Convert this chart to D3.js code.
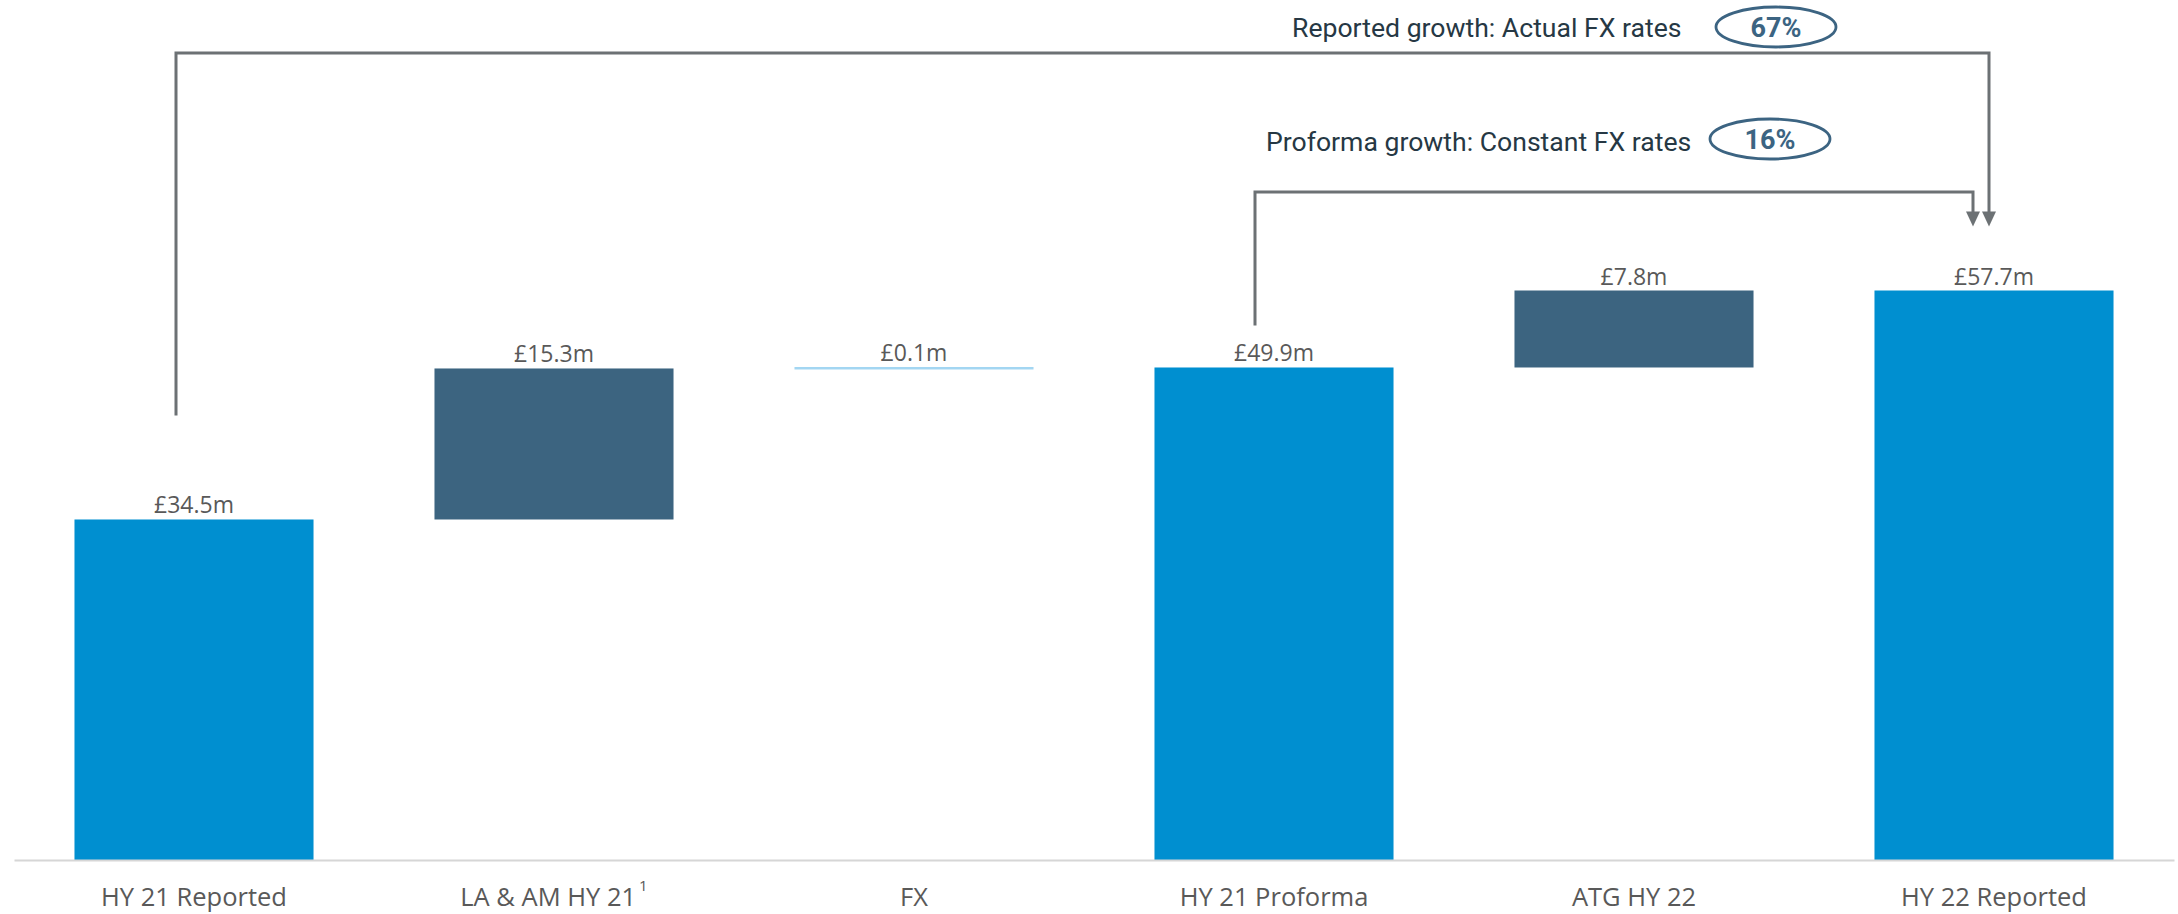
<!DOCTYPE html>
<html>
<head>
<meta charset="utf-8">
<script src="https://cdn.jsdelivr.net/npm/d3@7"></script>
<style>
  html, body { margin: 0; padding: 0; background: #ffffff; }
  svg { display: block; }
</style>
</head>
<body>
<svg id="chart" width="2178" height="914"></svg>
<script>
// Operating profit bridge, HY 21 to HY 22 (£m)
const categories = ["HY 21 Reported", "LA & AM HY 21", "FX", "HY 21 Proforma", "ATG HY 22", "HY 22 Reported"];
const footnotes = ["", "1", "", "", "", ""];
const values = [34.5, 15.3, 0.1, 49.9, 7.8, 57.7];
const kinds = ["total", "step", "fx", "total", "step", "total"];
const valueLabels = ["£34.5m", "£15.3m", "£0.1m", "£49.9m", "£7.8m", "£57.7m"];

const growthTexts = ["Reported growth: Actual FX rates", "Proforma growth: Constant FX rates"];
const growthValues = ["67%", "16%"];
const growthFrom = ["HY 21 Reported", "HY 21 Proforma"];
const growthTo = ["HY 22 Reported", "HY 22 Reported"];

const colors = { total: "#008fd0", step: "#3c6480", fx: "#a3d6f2" };

const svg = d3.select("#chart");

// Running totals for the waterfall
let running = 0;
const bars = categories.map((c, i) => {
  let lo, hi;
  if (kinds[i] === "total") { lo = 0; hi = values[i]; running = values[i]; }
  else { lo = running; hi = running + values[i]; running = hi; }
  return { cat: c, lo, hi, kind: kinds[i], label: valueLabels[i], note: footnotes[i] };
});

const x = d3.scaleBand()
  .domain(categories)
  .range([14, 2174])
  .paddingInner(0.336)
  .paddingOuter(0.168);

const y = d3.scaleLinear()
  .domain([0, 60])
  .range([860, 267.8]);

// Bars
svg.append("g").selectAll("rect")
  .data(bars)
  .join("rect")
  .attr("x", d => x(d.cat))
  .attr("width", x.bandwidth())
  .attr("y", d => d.kind === "fx" ? y(d.hi) - 0.5 : y(d.hi))
  .attr("height", d => Math.max(y(d.lo) - y(d.hi), 2.5))
  .attr("fill", d => colors[d.kind]);

// Value labels
svg.append("g").selectAll("text")
  .data(bars)
  .join("text")
  .attr("x", d => x(d.cat) + x.bandwidth() / 2)
  .attr("y", d => y(d.hi) - 6)
  .attr("text-anchor", "middle")
  .attr("font-family", "'Open Sans', sans-serif")
  .attr("font-size", 23)
  .attr("fill", "#595959")
  .text(d => d.label);

// Category axis
const axis = svg.append("g")
  .attr("transform", "translate(0,860)")
  .call(d3.axisBottom(x).tickSize(0).tickSizeOuter(0));
axis.select(".domain").attr("stroke", "#d6d6d6").attr("stroke-width", 2);
axis.selectAll(".tick text")
  .attr("y", 46)
  .attr("dy", 0)
  .attr("font-family", "'Open Sans', sans-serif")
  .attr("font-size", 25.5)
  .attr("fill", "#595959")
  .each(function(d, i) {
    if (footnotes[i]) {
      d3.select(this).append("tspan")
        .attr("dx", 3)
        .attr("dy", -15)
        .attr("font-size", 15)
        .text(footnotes[i]);
    }
  });

// Growth connectors with arrowheads into the HY 22 bar
const lineColor = "#6c7174";
const connectors = [
  { from: growthFrom[0], to: growthTo[0], startY: y(values[0]) - 104, topY: 53, fromOff: -18, toOff: -5 },
  { from: growthFrom[1], to: growthTo[1], startY: y(values[3]) - 42, topY: 192, fromOff: -19, toOff: -21 }
];
const tipY = y(values[5]) - 64;
const conn = svg.append("g");
connectors.forEach(c => {
  const x0 = x(c.from) + x.bandwidth() / 2 + c.fromOff;
  const x1 = x(c.to) + x.bandwidth() / 2 + c.toOff;
  conn.append("path")
    .attr("d", `M${x0},${c.startY}V${c.topY}H${x1}V${tipY - 12}`)
    .attr("fill", "none")
    .attr("stroke", lineColor)
    .attr("stroke-width", 3);
  conn.append("path")
    .attr("d", `M${x1 - 7},${tipY - 15}L${x1 + 7},${tipY - 15}L${x1},${tipY}Z`)
    .attr("fill", lineColor);
});

// Growth annotations with circled percentages
const notes = [
  { text: growthTexts[0], tx: 1292, ty: 37, pct: growthValues[0], cx: 1776, cy: 27 },
  { text: growthTexts[1], tx: 1266, ty: 151, pct: growthValues[1], cx: 1770, cy: 139 }
];
const ann = svg.append("g");
notes.forEach(n => {
  ann.append("text")
    .attr("x", n.tx).attr("y", n.ty)
    .attr("font-family", "Roboto, sans-serif")
    .attr("font-size", 26.6)
    .attr("fill", "#263844")
    .text(n.text);
  ann.append("ellipse")
    .attr("cx", n.cx).attr("cy", n.cy)
    .attr("rx", 60).attr("ry", 20)
    .attr("fill", "none")
    .attr("stroke", "#3c6482")
    .attr("stroke-width", 2.8);
  ann.append("text")
    .attr("x", n.cx).attr("y", n.cy + 9.5)
    .attr("text-anchor", "middle")
    .attr("font-family", "Roboto, sans-serif")
    .attr("font-weight", "bold")
    .attr("font-size", 27)
    .attr("fill", "#3c6482")
    .text(n.pct);
});
</script>
</body>
</html>
